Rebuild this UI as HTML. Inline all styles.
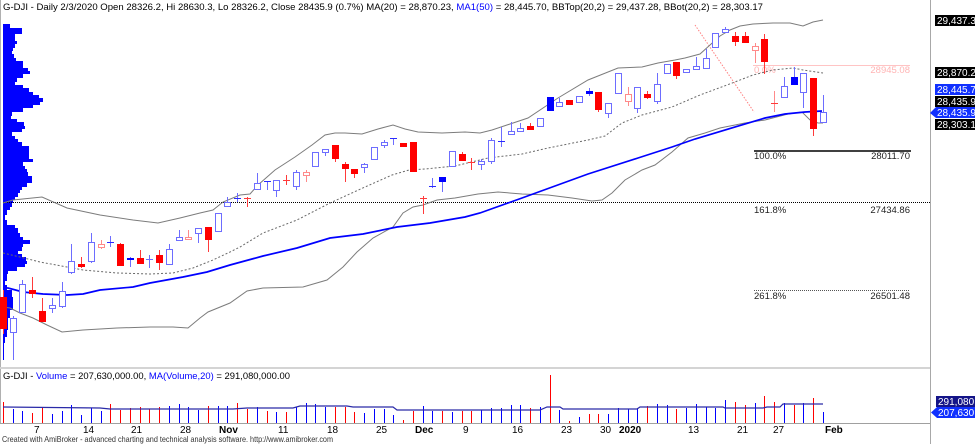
<!DOCTYPE html>
<html><head><meta charset="utf-8"><style>
html,body{margin:0;padding:0;background:#fff;}
svg{display:block;font-family:"Liberation Sans",sans-serif;}
.wb{stroke:#6d6dff;stroke-width:1}
.wr{stroke:#ff3a3a;stroke-width:1}
.wp{stroke:#ff8a8a;stroke-width:1}
.wf{stroke:#2a2aff;stroke-width:1}
.bh{fill:#fff;stroke:#6d6dff;stroke-width:1}
.rh{fill:#fff;stroke:#ff8a8a;stroke-width:1}
.rf{fill:#ff0000}
.bf{fill:#0000ff}
.vb{stroke:#0000ff;stroke-width:1}
.vr{stroke:#ff0000;stroke-width:1}
</style></head><body>
<svg width="975" height="444" viewBox="0 0 975 444" xmlns="http://www.w3.org/2000/svg">
<rect width="975" height="444" fill="#fff"/>
<!-- frame -->
<line x1="0.5" y1="0" x2="0.5" y2="424" stroke="#b0b0b0"/>
<line x1="930.5" y1="0" x2="930.5" y2="444" stroke="#a8a8a8"/>
<rect x="0" y="367" width="930" height="2" fill="#d4d4d4"/>
<line x1="0" y1="423.5" x2="930" y2="423.5" stroke="#a0a0a0"/>

<!-- header -->
<text x="3" y="10" font-size="9.5" fill="#000" textLength="760" lengthAdjust="spacingAndGlyphs">G-DJI - Daily 2/3/2020 Open 28326.2, Hi 28630.3, Lo 28326.2, Close 28435.9 (0.7%) MA(20) = 28,870.23, <tspan fill="#0000ff">MA1(50)</tspan> = 28,445.70, BBTop(20,2) = 29,437.28, BBot(20,2) = 28,303.17</text>

<!-- volume profile -->
<path fill="#0000ff" d="M3 24 H10 V28 H22 V34 H15 V41 H17 V44 H15 V48 H13 V51 H12 V54 H14 V58 H16 V61 H23 V68 H28 V71 H30 V74 H23 V78 H17 V82 H15 V85 H23 V88 H29 V92 H33 V95 H39 V98 H43 V102 H40 V105 H33 V108 H23 V112 H12 V116 H11 V119 H17 V122 H24 V126 H25 V129 H22 V132 H12 V136 H15 V139 H18 V142 H22 V146 H29 V159 H33 V162 H23 V166 H25 V169 H27 V172 H28 V176 H32 V183 H27 V187 H22 V190 H20 V193 H18 V197 H15 V200 H13 V203 H12 V207 H10 V210 H7 V215 H5 V220 H7 V225 H15 V228 H18 V233 H20 V237 H23 V240 H30 V244 H23 V247 H22 V251 H18 V254 H22 V257 H26 V261 H27 V264 H25 V267 H17 V271 H8 V274 H7 V281 H5 V285 H7 V290 H12 V297 H13 V310 H10 V318 H8 V330 H7 V337 H5 V343 H4 V360 H3 Z"/>

<!-- fib levels -->
<line x1="3" y1="202.5" x2="930" y2="202.5" stroke="#000" stroke-dasharray="1 1"/>
<line x1="754" y1="290.5" x2="910" y2="290.5" stroke="#555" stroke-dasharray="1 1"/>
<rect x="754" y="150" width="157" height="2" fill="#404040"/>
<line x1="753" y1="65.5" x2="910" y2="65.5" stroke="#ffc4c4"/>
<line x1="695" y1="25" x2="754" y2="112" stroke="#ff8080" stroke-dasharray="1.5 1.5"/>
<g font-size="9.5">
<text x="754" y="73" fill="#ffb4b4">0.0%</text>
<text x="910" y="73" fill="#ffb4b4" text-anchor="end">28945.08</text>
<text x="754" y="159" fill="#222">100.0%</text>
<text x="910" y="159" fill="#222" text-anchor="end">28011.70</text>
<text x="754" y="213" fill="#222">161.8%</text>
<text x="910" y="213" fill="#222" text-anchor="end">27434.86</text>
<text x="754" y="299" fill="#222">261.8%</text>
<text x="910" y="299" fill="#222" text-anchor="end">26501.48</text>
</g>

<!-- Bollinger bands -->
<polyline fill="none" stroke="#7c7c7c" stroke-width="1" points="3,203 13,200 42,197 67,208 100,215 133,220 158,223 180,218 200,213 213,210 223,202 240,195 250,194 258,185 275,170 295,157 312,145 325,135 335,133 345,133 362,134 378,129 393,125 405,129 418,132 442,133 465,132 480,133 492,130 528,118 558,98 588,80 618,68 642,67 658,63 675,60 685,58 700,54 710,45 720,36 730,30 740,26 753,24 773,23 790,23 803,26 813,22 823,20"/>
<polyline fill="none" stroke="#7c7c7c" stroke-width="1" points="3,307 10,308 20,313 33,318 47,325 62,332 83,330 117,328 150,327 173,327 188,328 200,318 208,312 230,303 247,291 263,288 303,287 327,280 343,267 357,252 373,238 393,227 403,213 413,207 423,205 437,200 455,198 478,194 498,192 522,194 548,195 572,198 592,201 602,200 612,193 625,180 642,170 655,165 672,152 688,138 705,133 720,128 745,123 765,120 788,114 802,112 810,120 818,123 823,123"/>
<!-- MA20 -->
<polyline fill="none" stroke="#6a6a6a" stroke-width="1" stroke-dasharray="2 2" points="3,253 20,257 40,262 67,267 83,270 117,273 150,274 173,273 193,268 213,260 230,252 240,247 263,233 297,220 330,203 365,187 392,175 409,170 425,169 455,166 488,158 522,154 548,148 588,140 605,136 622,123 642,115 672,107 700,95 727,85 753,75 773,70 793,68 803,70 823,73"/>
<!-- MA50 -->
<polyline fill="none" stroke="#0000ff" stroke-width="1.7" points="3,288 8,288 23,292 43,294 67,295 83,294 100,290 133,287 150,283 183,277 207,272 230,265 263,256 297,248 330,238 363,234 397,227 430,223 465,217 480,213 522,198 588,174 638,158 672,147 695,139 765,118 785,114 805,112 822,111"/>

<!-- candles -->
<g>
<line class="wr" x1="3.5" y1="290" x2="3.5" y2="334"/><rect class="rf" x="0" y="297" width="7" height="32"/>
<line class="wb" x1="13.5" y1="316" x2="13.5" y2="360"/><rect class="bh" x="10.5" y="318.5" width="6" height="14"/>
<line class="wb" x1="22.5" y1="280" x2="22.5" y2="313"/><rect class="bh" x="19.5" y="284.5" width="6" height="28"/>
<line class="wr" x1="32.5" y1="277" x2="32.5" y2="298"/><rect class="rf" x="29" y="290" width="7" height="4"/>
<line class="wr" x1="42.5" y1="298" x2="42.5" y2="322"/><rect class="rf" x="39" y="311" width="7" height="11"/>
<line class="wb" x1="52.5" y1="298" x2="52.5" y2="313"/><rect class="bh" x="49.5" y="305.5" width="6" height="3"/>
<line class="wb" x1="62.5" y1="282" x2="62.5" y2="308"/><rect class="bh" x="59.5" y="291.5" width="6" height="15"/>
<line class="wb" x1="71.5" y1="244" x2="71.5" y2="274"/><rect class="bh" x="68.5" y="261.5" width="6" height="11"/>
<line class="wr" x1="81.5" y1="257" x2="81.5" y2="268"/><rect class="rf" x="78" y="264" width="7" height="3"/>
<line class="wb" x1="91.5" y1="233" x2="91.5" y2="263"/><rect class="bh" x="88.5" y="242.5" width="6" height="19"/>
<line class="wp" x1="101.5" y1="240" x2="101.5" y2="249"/><rect class="rh" x="98.5" y="244.5" width="6" height="3"/>
<line class="wb" x1="110.5" y1="236" x2="110.5" y2="247"/><line class="wf" x1="107" y1="242.5" x2="114" y2="242.5"/>
<line class="wr" x1="120.5" y1="243" x2="120.5" y2="266"/><rect class="rf" x="117" y="244" width="7" height="22"/>
<line class="wb" x1="130.5" y1="257" x2="130.5" y2="267"/><rect class="bf" x="127" y="258" width="7" height="2"/>
<line class="wr" x1="140.5" y1="250" x2="140.5" y2="264"/><rect class="rf" x="137" y="258" width="7" height="6"/>
<line class="wb" x1="149.5" y1="255" x2="149.5" y2="268"/><line class="wb" x1="146" y1="259.5" x2="153" y2="259.5"/>
<line class="wr" x1="159.5" y1="250" x2="159.5" y2="270"/><rect class="rf" x="156" y="255" width="7" height="8"/>
<line class="wb" x1="169.5" y1="244" x2="169.5" y2="265"/><rect class="bh" x="166.5" y="249.5" width="6" height="15"/>
<line class="wb" x1="179.5" y1="230" x2="179.5" y2="241"/><rect class="bh" x="176.5" y="237.5" width="6" height="3"/>
<line class="wp" x1="188.5" y1="230" x2="188.5" y2="240"/><rect class="rh" x="185.5" y="237.5" width="6" height="2"/>
<line class="wb" x1="198.5" y1="228" x2="198.5" y2="243"/><rect class="bh" x="195.5" y="228.5" width="6" height="5"/>
<line class="wr" x1="208.5" y1="227" x2="208.5" y2="252"/><rect class="rf" x="205" y="227" width="7" height="13"/>
<line class="wb" x1="218.5" y1="213" x2="218.5" y2="232"/><rect class="bh" x="215.5" y="213.5" width="6" height="18"/>
<line class="wb" x1="227.5" y1="197" x2="227.5" y2="207"/><rect class="bh" x="224.5" y="202.5" width="6" height="4"/>
<line class="wb" x1="237.5" y1="193" x2="237.5" y2="202"/><line class="wf" x1="234" y1="198.5" x2="241" y2="198.5"/>
<line class="wr" x1="247.5" y1="197" x2="247.5" y2="207"/><line class="wr" x1="244" y1="198.5" x2="251" y2="198.5"/>
<line class="wb" x1="257.5" y1="173" x2="257.5" y2="190"/><rect class="bh" x="254.5" y="183.5" width="6" height="6"/>
<line class="wb" x1="267.5" y1="181" x2="267.5" y2="190"/><line class="wf" x1="264" y1="181.5" x2="271" y2="181.5"/>
<line class="wb" x1="276.5" y1="180" x2="276.5" y2="197"/><rect class="bh" x="273.5" y="180.5" width="6" height="10"/>
<line class="wr" x1="286.5" y1="175" x2="286.5" y2="185"/><line class="wr" x1="283" y1="180.5" x2="290" y2="180.5"/>
<line class="wb" x1="296.5" y1="170" x2="296.5" y2="190"/><rect class="bh" x="293.5" y="172.5" width="6" height="14"/>
<line class="wp" x1="306.5" y1="170" x2="306.5" y2="182"/><rect class="rh" x="303.5" y="172.5" width="6" height="3"/>
<line class="wb" x1="315.5" y1="152" x2="315.5" y2="167"/><rect class="bh" x="312.5" y="152.5" width="6" height="14"/>
<line class="wb" x1="325.5" y1="149" x2="325.5" y2="156"/><rect class="bh" x="322.5" y="149.5" width="6" height="3"/>
<line class="wr" x1="335.5" y1="145" x2="335.5" y2="162"/><rect class="rf" x="332" y="145" width="7" height="14"/>
<line class="wr" x1="345.5" y1="162" x2="345.5" y2="182"/><rect class="rf" x="342" y="164" width="7" height="5"/>
<line class="wr" x1="354.5" y1="169" x2="354.5" y2="178"/><rect class="rf" x="351" y="169" width="7" height="5"/>
<line class="wb" x1="364.5" y1="163" x2="364.5" y2="173"/><rect class="bh" x="361.5" y="164.5" width="6" height="3"/>
<line class="wb" x1="374.5" y1="147" x2="374.5" y2="160"/><rect class="bh" x="371.5" y="147.5" width="6" height="12"/>
<line class="wb" x1="384.5" y1="140" x2="384.5" y2="148"/><rect class="bh" x="381.5" y="142.5" width="6" height="3"/>
<line class="wb" x1="393.5" y1="138" x2="393.5" y2="145"/><line class="wf" x1="390" y1="138.5" x2="397" y2="138.5"/>
<line class="wr" x1="403.5" y1="143" x2="403.5" y2="147"/><rect class="rf" x="400" y="143" width="7" height="4"/>
<line class="wr" x1="413.5" y1="142" x2="413.5" y2="172"/><rect class="rf" x="410" y="142" width="7" height="30"/>
<line class="wr" x1="423.5" y1="196" x2="423.5" y2="214"/><line class="wr" x1="420" y1="198.5" x2="427" y2="198.5"/>
<line class="wb" x1="432.5" y1="178" x2="432.5" y2="188"/><line class="wf" x1="429" y1="186.5" x2="436" y2="186.5"/>
<line class="wb" x1="442.5" y1="177" x2="442.5" y2="192"/><rect class="bf" x="439" y="177" width="7" height="5"/>
<line class="wb" x1="452.5" y1="151" x2="452.5" y2="167"/><rect class="bh" x="449.5" y="151.5" width="6" height="15"/>
<line class="wr" x1="462.5" y1="152" x2="462.5" y2="161"/><rect class="rf" x="459" y="154" width="7" height="7"/>
<line class="wr" x1="471.5" y1="158" x2="471.5" y2="170"/><line class="wr" x1="468" y1="162.5" x2="475" y2="162.5"/>
<line class="wb" x1="481.5" y1="159" x2="481.5" y2="170"/><rect class="bh" x="478.5" y="161.5" width="6" height="3"/>
<line class="wb" x1="491.5" y1="138" x2="491.5" y2="164"/><rect class="bh" x="488.5" y="140.5" width="6" height="21"/>
<line class="wb" x1="501.5" y1="127" x2="501.5" y2="147"/><line class="wf" x1="498" y1="141.5" x2="505" y2="141.5"/>
<line class="wb" x1="511.5" y1="122" x2="511.5" y2="135"/><rect class="bh" x="508.5" y="131.5" width="6" height="3"/>
<line class="wb" x1="520.5" y1="123" x2="520.5" y2="132"/><rect class="bh" x="517.5" y="128.5" width="6" height="3"/>
<line class="wr" x1="530.5" y1="123" x2="530.5" y2="130"/><rect class="rf" x="527" y="126" width="7" height="4"/>
<line class="wb" x1="540.5" y1="118" x2="540.5" y2="127"/><rect class="bh" x="537.5" y="118.5" width="6" height="8"/>
<line class="wf" x1="550.5" y1="97" x2="550.5" y2="111"/><rect class="bf" x="547" y="97" width="7" height="14"/>
<line class="wb" x1="559.5" y1="98" x2="559.5" y2="107"/><rect class="bh" x="556.5" y="102.5" width="6" height="4"/>
<line class="wr" x1="569.5" y1="100" x2="569.5" y2="105"/><rect class="rf" x="566" y="100" width="7" height="5"/>
<line class="wb" x1="579.5" y1="96" x2="579.5" y2="103"/><rect class="bh" x="576.5" y="96.5" width="6" height="6"/>
<line class="wb" x1="589.5" y1="88" x2="589.5" y2="96"/><rect class="bf" x="586" y="91" width="7" height="3"/>
<line class="wr" x1="598.5" y1="92" x2="598.5" y2="112"/><rect class="rf" x="595" y="92" width="7" height="18"/>
<line class="wb" x1="608.5" y1="103" x2="608.5" y2="118"/><rect class="bh" x="605.5" y="103.5" width="6" height="10"/>
<line class="wb" x1="618.5" y1="73" x2="618.5" y2="94"/><rect class="bh" x="615.5" y="73.5" width="6" height="20"/>
<line class="wp" x1="628.5" y1="87" x2="628.5" y2="106"/><rect class="rh" x="625.5" y="94.5" width="6" height="7"/>
<line class="wb" x1="637.5" y1="87" x2="637.5" y2="113"/><rect class="bh" x="634.5" y="87.5" width="6" height="21"/>
<line class="wr" x1="647.5" y1="91" x2="647.5" y2="99"/><rect class="rf" x="644" y="94" width="7" height="4"/>
<line class="wb" x1="657.5" y1="73" x2="657.5" y2="104"/><rect class="bh" x="654.5" y="84.5" width="6" height="17"/>
<line class="wb" x1="667.5" y1="64" x2="667.5" y2="74"/><rect class="bh" x="664.5" y="64.5" width="6" height="9"/>
<line class="wr" x1="676.5" y1="62" x2="676.5" y2="79"/><rect class="rf" x="673" y="62" width="7" height="14"/>
<line class="wb" x1="686.5" y1="69" x2="686.5" y2="72"/><rect class="bh" x="683.5" y="69.5" width="6" height="3"/>
<line class="wb" x1="696.5" y1="57" x2="696.5" y2="70"/><rect class="bh" x="693.5" y="66.5" width="6" height="3"/>
<line class="wb" x1="706.5" y1="49" x2="706.5" y2="69"/><rect class="bh" x="703.5" y="58.5" width="6" height="10"/>
<line class="wb" x1="715.5" y1="33" x2="715.5" y2="48"/><rect class="bh" x="712.5" y="33.5" width="6" height="14"/>
<line class="wb" x1="725.5" y1="27" x2="725.5" y2="32"/><rect class="bh" x="722.5" y="29.5" width="6" height="3"/>
<line class="wr" x1="735.5" y1="32" x2="735.5" y2="46"/><rect class="rf" x="732" y="36" width="7" height="6"/>
<line class="wr" x1="745.5" y1="32" x2="745.5" y2="43"/><rect class="rf" x="742" y="36" width="7" height="7"/>
<line class="wp" x1="755.5" y1="43" x2="755.5" y2="63"/><rect class="rh" x="752.5" y="46.5" width="6" height="4"/>
<line class="wr" x1="764.5" y1="34" x2="764.5" y2="74"/><rect class="rf" x="761" y="39" width="7" height="23"/>
<line class="wp" x1="774.5" y1="91" x2="774.5" y2="112"/><line class="wr" x1="771" y1="103.5" x2="778" y2="103.5"/>
<line class="wb" x1="784.5" y1="77" x2="784.5" y2="98"/><rect class="bh" x="781.5" y="86.5" width="6" height="11"/>
<line class="wb" x1="794.5" y1="67" x2="794.5" y2="85"/><rect class="bf" x="791" y="77" width="7" height="8"/>
<line class="wb" x1="803.5" y1="73" x2="803.5" y2="108"/><rect class="bh" x="800.5" y="73.5" width="6" height="19"/>
<line class="wr" x1="813.5" y1="78" x2="813.5" y2="136"/><rect class="rf" x="810" y="78" width="7" height="51"/>
<line class="wb" x1="823.5" y1="95" x2="823.5" y2="123"/><rect class="bh" x="820.5" y="112.5" width="6" height="10"/>
</g>

<!-- right price labels -->
<g font-size="10" fill="#fff">
<rect x="935" y="15" width="40" height="11" fill="#000"/><text x="937" y="24">29,437.30</text>
<rect x="935" y="67" width="40" height="11" fill="#000"/><text x="937" y="76">28,870.23</text>
<rect x="935" y="84" width="40" height="11" fill="#1030ff"/><text x="937" y="93">28,445.70</text>
<rect x="935" y="96" width="40" height="11" fill="#000"/><text x="937" y="105">28,435.90</text>
<path d="M930 113 L936 107 H975 V118 H936 Z" fill="#1030ff"/><text x="937" y="116">28,435.90</text>
<rect x="935" y="119" width="40" height="11" fill="#000"/><text x="937" y="128">28,303.17</text>
</g>

<!-- volume pane -->
<text x="3" y="379" font-size="9.5" fill="#000" textLength="287" lengthAdjust="spacingAndGlyphs">G-DJI - <tspan fill="#0000ff">Volume</tspan> = 207,630,000.00, <tspan fill="#0000ff">MA(Volume,20)</tspan> = 291,080,000.00</text>
<g>
<line class="vr" x1="3.5" y1="402" x2="3.5" y2="423"/>
<line class="vb" x1="13.5" y1="409" x2="13.5" y2="423"/>
<line class="vb" x1="22.5" y1="411" x2="22.5" y2="423"/>
<line class="vr" x1="32.5" y1="413" x2="32.5" y2="423"/>
<line class="vr" x1="42.5" y1="408" x2="42.5" y2="423"/>
<line class="vb" x1="52.5" y1="414" x2="52.5" y2="423"/>
<line class="vb" x1="62.5" y1="411" x2="62.5" y2="423"/>
<line class="vb" x1="71.5" y1="405" x2="71.5" y2="423"/>
<line class="vb" x1="81.5" y1="415" x2="81.5" y2="423"/>
<line class="vb" x1="91.5" y1="408" x2="91.5" y2="423"/>
<line class="vb" x1="101.5" y1="411" x2="101.5" y2="423"/>
<line class="vr" x1="110.5" y1="404" x2="110.5" y2="423"/>
<line class="vr" x1="120.5" y1="410" x2="120.5" y2="423"/>
<line class="vr" x1="130.5" y1="408" x2="130.5" y2="423"/>
<line class="vr" x1="140.5" y1="407" x2="140.5" y2="423"/>
<line class="vr" x1="149.5" y1="409" x2="149.5" y2="423"/>
<line class="vr" x1="159.5" y1="407" x2="159.5" y2="423"/>
<line class="vb" x1="169.5" y1="406" x2="169.5" y2="423"/>
<line class="vb" x1="179.5" y1="404" x2="179.5" y2="423"/>
<line class="vb" x1="188.5" y1="407" x2="188.5" y2="423"/>
<line class="vb" x1="198.5" y1="410" x2="198.5" y2="423"/>
<line class="vr" x1="208.5" y1="406" x2="208.5" y2="423"/>
<line class="vb" x1="218.5" y1="406" x2="218.5" y2="423"/>
<line class="vb" x1="227.5" y1="406" x2="227.5" y2="423"/>
<line class="vr" x1="237.5" y1="403" x2="237.5" y2="423"/>
<line class="vr" x1="247.5" y1="409" x2="247.5" y2="423"/>
<line class="vb" x1="257.5" y1="407" x2="257.5" y2="423"/>
<line class="vr" x1="267.5" y1="411" x2="267.5" y2="423"/>
<line class="vb" x1="276.5" y1="412" x2="276.5" y2="423"/>
<line class="vr" x1="286.5" y1="412" x2="286.5" y2="423"/>
<line class="vb" x1="296.5" y1="407" x2="296.5" y2="423"/>
<line class="vb" x1="306.5" y1="403" x2="306.5" y2="423"/>
<line class="vb" x1="315.5" y1="404" x2="315.5" y2="423"/>
<line class="vb" x1="325.5" y1="407" x2="325.5" y2="423"/>
<line class="vr" x1="335.5" y1="407" x2="335.5" y2="423"/>
<line class="vr" x1="345.5" y1="407" x2="345.5" y2="423"/>
<line class="vr" x1="354.5" y1="412" x2="354.5" y2="423"/>
<line class="vb" x1="364.5" y1="413" x2="364.5" y2="423"/>
<line class="vb" x1="374.5" y1="409" x2="374.5" y2="423"/>
<line class="vb" x1="384.5" y1="409" x2="384.5" y2="423"/>
<line class="vb" x1="393.5" y1="415" x2="393.5" y2="423"/>
<line class="vr" x1="403.5" y1="420" x2="403.5" y2="423"/>
<line class="vr" x1="413.5" y1="411" x2="413.5" y2="423"/>
<line class="vb" x1="423.5" y1="406" x2="423.5" y2="423"/>
<line class="vb" x1="432.5" y1="411" x2="432.5" y2="423"/>
<line class="vr" x1="442.5" y1="411" x2="442.5" y2="423"/>
<line class="vb" x1="452.5" y1="412" x2="452.5" y2="423"/>
<line class="vr" x1="462.5" y1="411" x2="462.5" y2="423"/>
<line class="vr" x1="471.5" y1="411" x2="471.5" y2="423"/>
<line class="vb" x1="481.5" y1="410" x2="481.5" y2="423"/>
<line class="vb" x1="491.5" y1="408" x2="491.5" y2="423"/>
<line class="vb" x1="501.5" y1="408" x2="501.5" y2="423"/>
<line class="vb" x1="511.5" y1="405" x2="511.5" y2="423"/>
<line class="vb" x1="520.5" y1="405" x2="520.5" y2="423"/>
<line class="vr" x1="530.5" y1="408" x2="530.5" y2="423"/>
<line class="vb" x1="540.5" y1="407" x2="540.5" y2="423"/>
<line class="vr" x1="550.5" y1="375" x2="550.5" y2="423"/>
<line class="vb" x1="559.5" y1="410" x2="559.5" y2="423"/>
<line class="vr" x1="569.5" y1="421" x2="569.5" y2="423"/>
<line class="vb" x1="579.5" y1="417" x2="579.5" y2="423"/>
<line class="vr" x1="589.5" y1="414" x2="589.5" y2="423"/>
<line class="vr" x1="598.5" y1="414" x2="598.5" y2="423"/>
<line class="vb" x1="608.5" y1="414" x2="608.5" y2="423"/>
<line class="vb" x1="618.5" y1="408" x2="618.5" y2="423"/>
<line class="vb" x1="628.5" y1="409" x2="628.5" y2="423"/>
<line class="vb" x1="637.5" y1="408" x2="637.5" y2="423"/>
<line class="vr" x1="647.5" y1="406" x2="647.5" y2="423"/>
<line class="vb" x1="657.5" y1="404" x2="657.5" y2="423"/>
<line class="vb" x1="667.5" y1="405" x2="667.5" y2="423"/>
<line class="vr" x1="676.5" y1="409" x2="676.5" y2="423"/>
<line class="vb" x1="686.5" y1="408" x2="686.5" y2="423"/>
<line class="vb" x1="696.5" y1="404" x2="696.5" y2="423"/>
<line class="vb" x1="706.5" y1="407" x2="706.5" y2="423"/>
<line class="vb" x1="715.5" y1="408" x2="715.5" y2="423"/>
<line class="vb" x1="725.5" y1="400" x2="725.5" y2="423"/>
<line class="vr" x1="735.5" y1="402" x2="735.5" y2="423"/>
<line class="vr" x1="745.5" y1="405" x2="745.5" y2="423"/>
<line class="vb" x1="755.5" y1="403" x2="755.5" y2="423"/>
<line class="vr" x1="764.5" y1="396" x2="764.5" y2="423"/>
<line class="vr" x1="774.5" y1="402" x2="774.5" y2="423"/>
<line class="vb" x1="784.5" y1="403" x2="784.5" y2="423"/>
<line class="vr" x1="794.5" y1="405" x2="794.5" y2="423"/>
<line class="vb" x1="803.5" y1="403" x2="803.5" y2="423"/>
<line class="vr" x1="813.5" y1="398" x2="813.5" y2="423"/>
<line class="vb" x1="823.5" y1="412" x2="823.5" y2="423"/>
</g>
<polyline fill="none" stroke="#2a2aa8" stroke-width="1.2" points="3,407 100,408 110,409 233,409 247,408 293,408 300,406 347,406 353,407 393,407 397,410 540,410 547,407 560,407 563,409 637,409 640,407 723,407 725,408 763,408 767,407 780,407 783,404 823,404"/>

<!-- volume labels -->
<g font-size="10" fill="#fff">
<rect x="936" y="396" width="39" height="11" fill="#141488"/><text x="938" y="405">291,080,000</text>
<path d="M931 412.5 L937 407 H975 V418 H937 Z" fill="#1030ff"/><text x="938" y="416">207,630,000</text>
</g>

<!-- date axis -->
<g font-size="10" fill="#000">
<text x="34" y="433">7</text>
<text x="83" y="433">14</text>
<text x="131" y="433">21</text>
<text x="180" y="433">28</text>
<text x="219" y="433" font-weight="bold">Nov</text>
<text x="278" y="433">11</text>
<text x="327" y="433">18</text>
<text x="376" y="433">25</text>
<text x="415" y="433" font-weight="bold">Dec</text>
<text x="463" y="433">9</text>
<text x="512" y="433">16</text>
<text x="561" y="433">23</text>
<text x="600" y="433">30</text>
<text x="619" y="433" font-weight="bold">2020</text>
<text x="688" y="433">13</text>
<text x="737" y="433">21</text>
<text x="773" y="433">27</text>
<text x="825" y="433" font-weight="bold">Feb</text>
</g>
<text x="2" y="442" font-size="8.5" fill="#333" textLength="331" lengthAdjust="spacingAndGlyphs">Created with AmiBroker - advanced charting and technical analysis software. http://www.amibroker.com</text>
</svg>
</body></html>
